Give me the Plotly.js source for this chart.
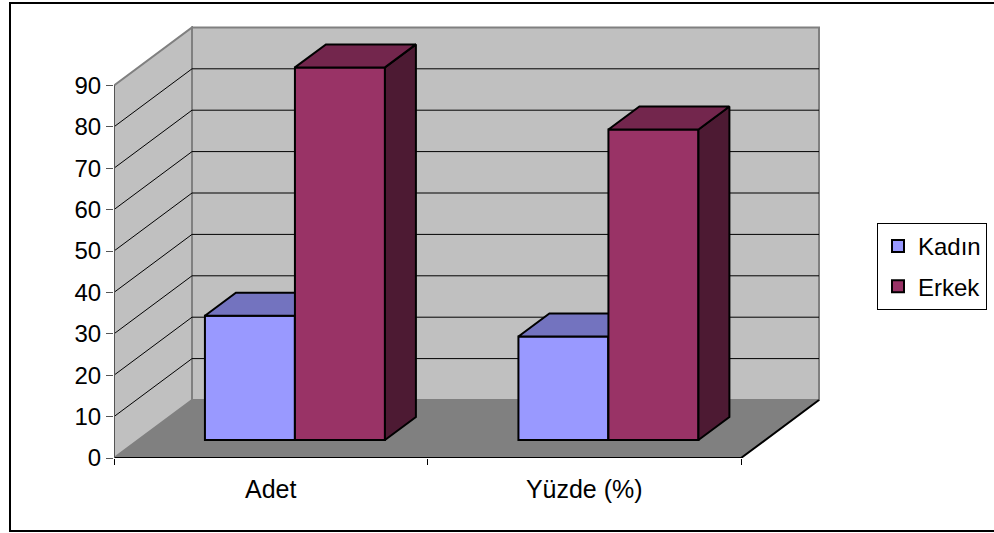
<!DOCTYPE html>
<html>
<head>
<meta charset="utf-8">
<script src="https://cdn.plot.ly/plotly-3.0.1.min.js"></script>
<style>
  html, body { margin: 0; padding: 0; background: #ffffff; }
  #chart { width: 994px; height: 533px; }
</style>
</head>
<body>
<div id="chart"></div>
<script>
// ---- data ----
const categories = ['Adet', 'Yüzde (%)'];
const seriesNames = ['Kadın', 'Erkek'];
const kadin = [30, 25];
const erkek = [90, 75];
const yTickValues = [0, 10, 20, 30, 40, 50, 60, 70, 80, 90];
const yTickLabels = ['0', '10', '20', '30', '40', '50', '60', '70', '80', '90'];

// ---- geometry (pixel-derived scale of the pseudo-3D frame) ----
const W = 994, H = 533;
const plotL = 114, plotR = 821, plotT = 26, plotB = 458;
const pxPerCat = 313.5;     // px per category unit
const pxPerVal = 4.14;      // px per value unit
const xMax = (plotR - plotL) / pxPerCat;
const yMax = (plotB - plotT) / pxPerVal;
const depth = { x: 78 / pxPerCat, y: 58 / pxPerVal };
const f0 = 0.31, f1 = 0.707;          // bar depth span (fraction of floor depth)
const barW = 90 / pxPerCat;
const wallTop = yTickValues[yTickValues.length - 1];
const nCat = categories.length;

const faceColors = {
  'Kadın': { front: '#9999FF', top: '#7373BF', side: '#4D4D80' },
  'Erkek': { front: '#993366', top: '#73264D', side: '#4D1A33' }
};

const traces = [];
[kadin, erkek].forEach((vals, s) => {
  const name = seriesNames[s];
  const col = faceColors[name];
  const xa = s === 0 ? 'x' : 'x2';
  const ya = s === 0 ? 'y' : 'y2';
  const ox = f0 * depth.x, oy = f0 * depth.y;
  const dx = (f1 - f0) * depth.x, dy = (f1 - f0) * depth.y;
  const xl = vals.map((v, i) => i + 0.5 + ox - barW + s * barW);
  // front faces (bars)
  traces.push({
    type: 'bar', name: name, legendgroup: name,
    x: xl.map(x => x + barW / 2), y: vals, base: oy, width: barW,
    xaxis: xa, yaxis: ya,
    marker: { color: col.front, line: { color: '#000000', width: 2 } },
    hoverinfo: 'skip'
  });
  // side & top faces
  const sideX = [], sideY = [], topX = [], topY = [];
  vals.forEach((v, i) => {
    const a = xl[i], b = xl[i] + barW, t = v + oy;
    sideX.push(b, b, b + dx, b + dx, b, null);
    sideY.push(oy, t, t + dy, oy + dy, oy, null);
    topX.push(a, b, b + dx, a + dx, a, null);
    topY.push(t, t, t + dy, t + dy, t, null);
  });
  [[sideX, sideY, col.side], [topX, topY, col.top]].forEach(([px, py, c]) => {
    traces.push({
      type: 'scatter', mode: 'lines', x: px, y: py, xaxis: xa, yaxis: ya,
      fill: 'toself', fillcolor: c, line: { color: '#000000', width: 2 },
      showlegend: false, legendgroup: name, hoverinfo: 'skip'
    });
  });
});

// ---- walls, floor, gridlines ----
const shapes = [];
const gray = '#808080', wall = '#C0C0C0';
shapes.push({ type: 'rect', xref: 'x', yref: 'y', layer: 'below',
  x0: depth.x, x1: nCat + depth.x, y0: depth.y, y1: wallTop + depth.y,
  fillcolor: wall, line: { color: gray, width: 2 } });
shapes.push({ type: 'path', xref: 'x', yref: 'y', layer: 'below',
  path: `M0,0 L${depth.x},${depth.y} L${depth.x},${wallTop + depth.y} L0,${wallTop} Z`,
  fillcolor: wall, line: { color: gray, width: 2 } });
shapes.push({ type: 'path', xref: 'x', yref: 'y', layer: 'below',
  path: `M0,0 L${nCat},0 L${nCat + depth.x},${depth.y} L${depth.x},${depth.y} Z`,
  fillcolor: gray, line: { width: 0 } });
yTickValues.slice(1, -1).forEach(v => {
  shapes.push({ type: 'line', xref: 'x', yref: 'y', layer: 'below',
    x0: depth.x, x1: nCat + depth.x, y0: v + depth.y, y1: v + depth.y,
    line: { color: '#000000', width: 1 } });
  shapes.push({ type: 'line', xref: 'x', yref: 'y', layer: 'below',
    x0: 0, x1: depth.x, y0: v, y1: v + depth.y,
    line: { color: '#000000', width: 1 } });
});
// front/right floor edges
shapes.push({ type: 'path', xref: 'x', yref: 'y', layer: 'below',
  path: `M0,0 L${nCat},0 L${nCat + depth.x},${depth.y}`,
  line: { color: '#000000', width: 2 } });
// left wall front edge
shapes.push({ type: 'line', xref: 'x', yref: 'y', layer: 'below',
  x0: 0, x1: 0, y0: 0, y1: wallTop, line: { color: '#555555', width: 2 } });
// outer chart border
const pw = plotR - plotL, ph = plotB - plotT;
shapes.push({ type: 'rect', xref: 'paper', yref: 'paper', layer: 'above',
  x0: (10 - plotL) / pw, x1: (1012 - plotL) / pw,
  y0: (plotB - 531) / ph, y1: (plotB - 3) / ph,
  line: { color: '#000000', width: 2 }, fillcolor: 'rgba(0,0,0,0)' });

const font = 'Liberation Sans, Arial, sans-serif';
const layout = {
  width: W, height: H,
  margin: { l: plotL, r: W - plotR, t: plotT, b: H - plotB, pad: 0 },
  paper_bgcolor: '#ffffff', plot_bgcolor: 'rgba(0,0,0,0)',
  font: { family: font, color: '#000000', size: 22 },
  barmode: 'overlay',
  showlegend: true,
  xaxis: {
    range: [0, xMax], fixedrange: true, showgrid: false, zeroline: false, showline: false,
    tickmode: 'array', tickvals: categories.map((c, i) => i + 0.5), ticktext: categories,
    ticks: '', tickfont: { size: 25, family: font }, ticklabelstandoff: 14,
    minor: { tickmode: 'array', tickvals: categories.map((c, i) => i).concat([nCat]),
      ticks: 'outside', ticklen: 6, tickcolor: '#000000', tickwidth: 1, showgrid: false }
  },
  yaxis: {
    range: [0, yMax], fixedrange: true, showgrid: false, zeroline: false, showline: false,
    tickmode: 'array', tickvals: yTickValues, ticktext: yTickLabels,
    ticks: 'outside', ticklen: 7, tickcolor: '#555555', tickwidth: 1,
    tickfont: { size: 24, family: font }
  },
  xaxis2: { overlaying: 'x', range: [0, xMax], visible: false, fixedrange: true },
  yaxis2: { overlaying: 'y', range: [0, yMax], visible: false, fixedrange: true },
  legend: {
    xref: 'container', yref: 'container',
    x: 877 / W, y: 1 - 223 / H, xanchor: 'left', yanchor: 'top',
    bgcolor: '#ffffff', bordercolor: '#000000', borderwidth: 1,
    font: { size: 24, family: font, color: '#000000' },
    traceorder: 'grouped', tracegroupgap: 6
  },
  shapes: shapes
};

Plotly.newPlot('chart', traces, layout, { displayModeBar: false, staticPlot: true });
</script>
</body>
</html>
